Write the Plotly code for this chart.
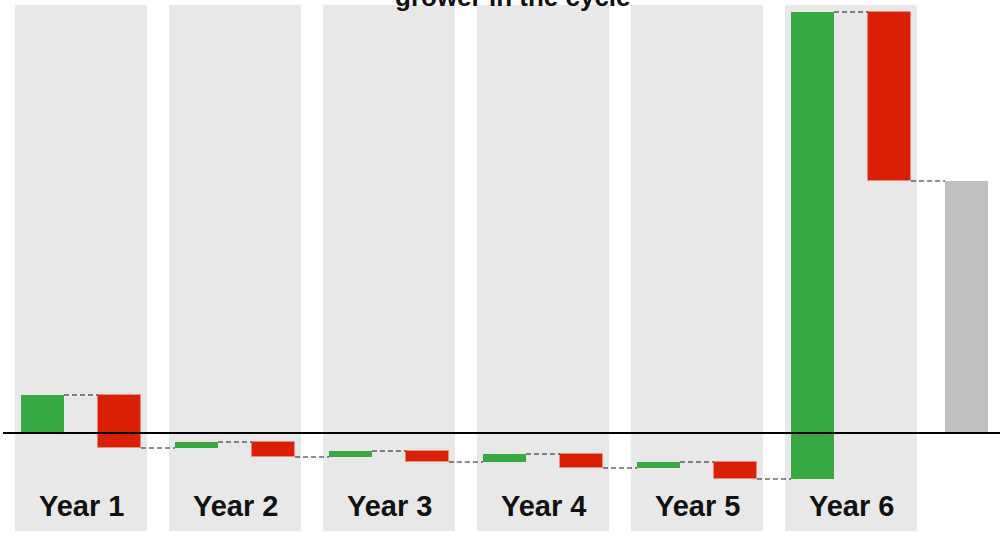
import plotly.graph_objects as go

# Waterfall of yearly cash flow for the grower
years = ["Year 1", "Year 2", "Year 3", "Year 4", "Year 5", "Year 6"]
income = [3.8, 0.6, 0.6, 0.8, 0.6, 46.7]
costs = [5.3, 1.5, 1.1, 1.4, 1.7, 16.9]
title_text = "grower in the cycle"

GREEN = "#38a843"
RED = "#d91f05"
GREY = "#c0c0c0"
BAND = "#e8e8e8"
BAR_W = 0.558
BAND_PAD = 0.357

# running cumulative position of each bar
green_x, green_base = [], []
red_x, red_base = [], []
seq_x, seq_end = [], []
level = 0.0
for i, (inc, cost) in enumerate(zip(income, costs)):
    green_x.append(2 * i)
    green_base.append(level)
    level += inc
    seq_x.append(2 * i)
    seq_end.append(level)
    red_x.append(2 * i + 1)
    red_base.append(level - cost)
    level -= cost
    seq_x.append(2 * i + 1)
    seq_end.append(level)
total = level
total_x = 2 * len(years)
seq_x.append(total_x)
seq_end.append(total)

# dashed connectors between consecutive bars
cx, cy = [], []
for k in range(len(seq_x) - 1):
    cx += [seq_x[k] + BAR_W / 2, seq_x[k + 1] - BAR_W / 2, None]
    cy += [seq_end[k], seq_end[k], None]

fig = go.Figure()
fig.add_trace(go.Bar(x=green_x, y=income, base=green_base, width=BAR_W,
                     marker=dict(color=GREEN, line=dict(width=0)),
                     showlegend=False, hoverinfo="skip"))
fig.add_trace(go.Bar(x=red_x, y=costs, base=red_base, width=BAR_W,
                     marker=dict(color=RED, line=dict(width=1, color="#ec8a7a")),
                     showlegend=False, hoverinfo="skip"))
fig.add_trace(go.Bar(x=[total_x], y=[total], base=[0], width=BAR_W,
                     marker=dict(color=GREY, line=dict(width=0)),
                     showlegend=False, hoverinfo="skip"))
fig.add_trace(go.Scatter(x=cx, y=cy, mode="lines",
                         line=dict(color="#1a1a1a", width=1.2, dash="5px,3px"),
                         showlegend=False, hoverinfo="skip"))

shapes = []
for i in range(len(years)):
    shapes.append(dict(type="rect", xref="x", yref="paper",
                       x0=2 * i - BAND_PAD, x1=2 * i + 1 + BAND_PAD, y0=0, y1=1,
                       fillcolor=BAND, line=dict(width=0), layer="below"))
shapes.append(dict(type="line", xref="paper", yref="y", x0=0, x1=1, y0=0, y1=0,
                   line=dict(color="black", width=2), layer="above"))

annotations = []
for i, name in enumerate(years):
    annotations.append(dict(x=2 * i + 0.5, y=-7.3, xref="x", yref="y",
                            text="<b>%s</b>" % name, showarrow=False,
                            font=dict(size=29, color="#111111",
                                      family="Arial, Liberation Sans"),
                            xanchor="center", yanchor="middle"))
annotations.append(dict(x=0.512, y=1, xref="paper", yref="paper",
                        text="<b>%s</b>" % title_text, showarrow=False,
                        font=dict(size=26, color="#111111",
                                  family="Arial, Liberation Sans"),
                        xanchor="center", yanchor="bottom", yshift=-9))

fig.update_layout(
    width=1000, height=534,
    margin=dict(l=3, r=0, t=5, b=3),
    plot_bgcolor="white", paper_bgcolor="white",
    barmode="overlay", bargap=0,
    xaxis=dict(range=[-0.513, 12.435], visible=False, fixedrange=True),
    yaxis=dict(range=[-9.8, 42.8], visible=False, fixedrange=True),
    shapes=shapes, annotations=annotations,
)

fig.write_html("out.html")
